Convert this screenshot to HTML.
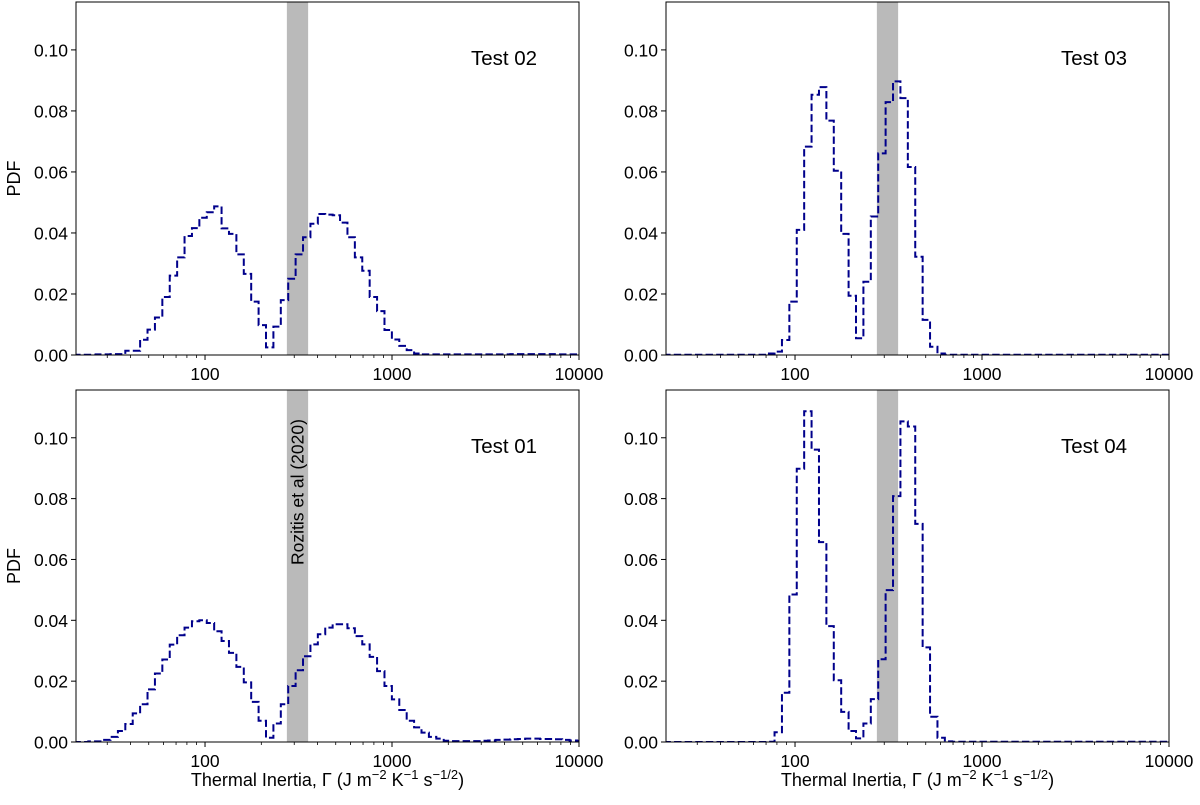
<!DOCTYPE html>
<html><head><meta charset="utf-8"><style>
body{margin:0;background:#fff;}
svg text{font-family:"Liberation Sans","DejaVu Sans",sans-serif;fill:#000;}
</style></head><body>
<svg id="fig" width="1200" height="800" viewBox="0 0 1200 800" xmlns="http://www.w3.org/2000/svg"></svg>
<script>
const test02 = [0.0001,0.0001,0.0001,0.0002,0.0002,0.0003,0.0003,0.0014,0.0014,0.005,0.0083,0.0123,0.019,0.026,0.032,0.039,0.0416,0.045,0.0468,0.0487,0.0415,0.0397,0.033,0.0266,0.0175,0.0098,0.0025,0.0093,0.018,0.025,0.033,0.0386,0.043,0.0462,0.046,0.0458,0.0434,0.0386,0.032,0.0276,0.019,0.0144,0.0082,0.0051,0.003,0.0016,0.0005,0.0002,0.0002,0.0002,0.0002,0.0002,0.0002,0.0002,0.0002,0.0002,0.0002,0.0002,0.0002,0.0003,0.0003,0.0003,0.0003,0.0003,0.0003,0.0002,0.0002,0.0002,0.0002];
const test03 = [0.0001,0.0001,0.0001,0.0001,0.0001,0.0001,0.0001,0.0001,0.0001,0.0001,0.0001,0.0001,0.0001,0.0001,0.0005,0.0011,0.0049,0.0175,0.041,0.0683,0.0853,0.0878,0.0768,0.0604,0.0397,0.0194,0.0055,0.024,0.0454,0.0661,0.0829,0.0897,0.0842,0.0616,0.0322,0.0115,0.0027,0.0005,0.0001,0.0001,0.0001,0.0001,0.0001,0.0001,0.0001,0.0001,0.0001,0.0001,0.0001,0.0001,0.0001,0.0001,0.0001,0.0001,0.0001,0.0001,0.0001,0.0001,0.0001,0.0001,0.0001,0.0001,0.0001,0.0001,0.0001,0.0001,0.0001,0.0001,0.0001];
const test01 = [0,0,0.0002,0.0002,0.0007,0.0017,0.0036,0.0059,0.0094,0.0124,0.0173,0.0225,0.0271,0.032,0.0351,0.0376,0.0397,0.040,0.0391,0.0364,0.0332,0.0293,0.0247,0.0196,0.0132,0.007,0.0014,0.0061,0.0124,0.0184,0.0236,0.0282,0.0321,0.0354,0.0376,0.0387,0.0387,0.0374,0.0348,0.0321,0.028,0.0233,0.0184,0.014,0.0105,0.007,0.0048,0.0031,0.0017,0.0011,0.0004,0.0003,0.0003,0.0003,0.0003,0.0004,0.0005,0.0007,0.0008,0.0009,0.001,0.0011,0.0011,0.001,0.001,0.0009,0.0007,0.0005,0.0004];
const test04 = [0,0,0,0,0,0,0,0,0,0,0,0,0,0,0.0001,0.0032,0.0162,0.0485,0.0898,0.1087,0.0961,0.0657,0.0381,0.0203,0.0099,0.0036,0.0012,0.0061,0.0141,0.0272,0.0499,0.0808,0.1054,0.1037,0.0717,0.0311,0.0083,0.0014,0.0002,0.0001,0.0001,0.0001,0.0001,0.0001,0.0001,0.0001,0.0001,0.0001,0.0001,0.0001,0.0001,0.0001,0.0001,0.0001,0.0001,0.0001,0.0001,0.0001,0.0001,0.0001,0.0001,0.0001,0.0001,0.0001,0.0001,0.0001,0.0001,0.0001,0.0001];
const binLogStart = 1.2965;
const binLogWidth = 0.0396;
const yTicks = [0, 0.02, 0.04, 0.06, 0.08, 0.10];
const yTickLabels = ["0.00","0.02","0.04","0.06","0.08","0.10"];
const xTicks = [100, 1000, 10000];
const xTickLabels = ["100","1000","10000"];
const band = [274, 356];

const NS = "http://www.w3.org/2000/svg";
const svg = document.getElementById('fig');
function mk(tag, attrs, parent){const e=document.createElementNS(NS,tag);for(const k in attrs)e.setAttribute(k,attrs[k]);(parent||svg).appendChild(e);return e;}

const panels = [
  {data:test02,title:"Test 02",x0:76,x1:579,y0:2,y1:355,left:true,bottom:false,name:"test-02"},
  {data:test03,title:"Test 03",x0:666,x1:1169,y0:2,y1:355,left:false,bottom:false,name:"test-03"},
  {data:test01,title:"Test 01",x0:76,x1:579,y0:390,y1:742,left:true,bottom:true,name:"test-01",label:true},
  {data:test04,title:"Test 04",x0:666,x1:1169,y0:390,y1:742,left:false,bottom:true,name:"test-04"}
];
const XMINL = 1.31, XMAXL = 4, YMAX = 0.1157;

panels.forEach((p,pi)=>{
  const g = mk('g',{});
  
  
  const sx = v => p.x0 + (Math.log10(v)-XMINL)/(XMAXL-XMINL)*(p.x1-p.x0);
  const sxl = l => p.x0 + (l-XMINL)/(XMAXL-XMINL)*(p.x1-p.x0);
  const sy = v => p.y1 - v/YMAX*(p.y1-p.y0);
  const cid = 'clip'+pi;
  const cp = mk('clipPath',{id:cid},g);
  mk('rect',{x:p.x0,y:p.y0,width:p.x1-p.x0,height:p.y1-p.y0},cp);
  const b = mk('rect',{x:sx(band[0]),y:p.y0,width:sx(band[1])-sx(band[0]),height:p.y1-p.y0,fill:'#bababa'},g);
  
  
  if(p.label){
    const cx=(sx(band[0])+sx(band[1]))/2+6;
    const t=mk('text',{x:cx,y:492,'font-size':17.5,'text-anchor':'middle',transform:`rotate(-90 ${cx} 492)`},g);
    t.textContent='Rozitis et al (2020)';
    
    
  }
  let d='';
  p.data.forEach((v,i)=>{
    const xa=sxl(binLogStart+i*binLogWidth), xb=sxl(binLogStart+(i+1)*binLogWidth), y=sy(v);
    if(i===0) d+=`M${xa},${sy(0)}L${xa},${y}`; else d+=`L${xa},${y}`;
    d+=`L${xb},${y}`;
    if(i===p.data.length-1) d+=`L${xb},${sy(0)}`;
  });
  const path=mk('path',{d:d,fill:'none',stroke:'#00008b','stroke-width':2,'stroke-dasharray':'7.4,3.2','clip-path':`url(#${cid})`},g);
  
  
  const fr=mk('rect',{x:p.x0,y:p.y0,width:p.x1-p.x0,height:p.y1-p.y0,fill:'none',stroke:'#000','stroke-width':1},g);
  
  
  yTicks.forEach((v,i)=>{
    const y=sy(v);
    mk('line',{x1:p.x0-5,x2:p.x0,y1:y,y2:y,stroke:'#000','stroke-width':1},g);
    const t=mk('text',{x:p.x0-8,y:y+6.5,'font-size':17.5,'text-anchor':'end'},g);
    t.textContent=yTickLabels[i];
    
    
  });
  for(let e=1;e<=3;e++){for(let m=1;m<=9;m++){const v=m*Math.pow(10,e);const l=Math.log10(v);if(l<XMINL-1e-9||l>XMAXL+1e-9)continue;const x=sx(v);
    const maj=(m===1);
    mk('line',{x1:x,x2:x,y1:p.y1,y2:p.y1+(maj?5:3),stroke:'#000','stroke-width':maj?1:0.8},g);}}
  const x10000=sx(10000);
  mk('line',{x1:x10000,x2:x10000,y1:p.y1,y2:p.y1+5,stroke:'#000','stroke-width':1},g);
  xTicks.forEach((v,i)=>{
    const t=mk('text',{x:sx(v),y:p.y1+25,'font-size':17.5,'text-anchor':'middle'},g);
    t.textContent=xTickLabels[i];
    
    
  });
  const tt=mk('text',{x:p.x0+428,y:p.y0+63,'font-size':20.5,'text-anchor':'middle'},g);
  tt.textContent=p.title;
  
  
  if(p.left){
    const cy=(p.y0+p.y1)/2;
    const t=mk('text',{x:20,y:cy,'font-size':18,'text-anchor':'middle',transform:`rotate(-90 20 ${cy})`},g);
    t.textContent='PDF';
    
    
  }
  if(p.bottom){
    const cx=(p.x0+p.x1)/2;
    const t=mk('text',{x:cx,y:786,'font-size':18,'text-anchor':'middle'},g);
    t.innerHTML='Thermal Inertia, Γ (J m<tspan dy="-7" font-size="13">−2</tspan><tspan dy="7"> K</tspan><tspan dy="-7" font-size="13">−1</tspan><tspan dy="7"> s</tspan><tspan dy="-7" font-size="13">−1/2</tspan><tspan dy="7">)</tspan>';
    
    
  }
});
</script>
</body></html>
